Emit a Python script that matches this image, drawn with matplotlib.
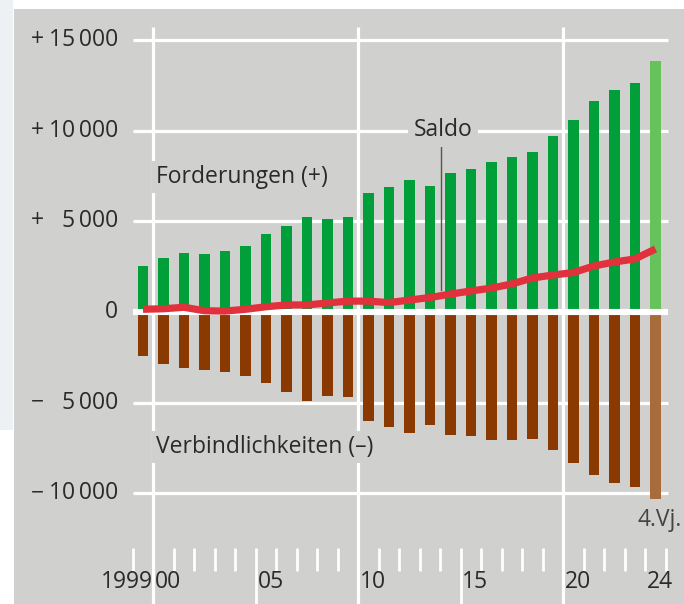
import numpy as np
import matplotlib.pyplot as plt
from matplotlib.patches import Rectangle

plt.rcParams['font.family'] = ['Open Sans', 'DejaVu Sans']

years = np.arange(1999, 2025)
forderungen = [2540, 2960, 3240, 3200, 3390, 3660, 4290, 4770, 5240, 5130, 5260,
               6570, 6900, 7290, 6960, 7670, 7890, 8280, 8560, 8830, 9720,
               10600, 11650, 12270, 12660, 13870]
verbindlichkeiten = [-2430, -2870, -3070, -3180, -3330, -3530, -3940, -4420, -4930, -4650, -4710,
                     -6000, -6350, -6700, -6260, -6810, -6830, -7050, -7090, -7010, -7620,
                     -8350, -9010, -9460, -9680, -10340]
saldo = [150, 180, 260, 70, 50, 150, 290, 390, 390, 500, 600,
         600, 520, 660, 800, 990, 1160, 1320, 1550, 1880, 2040,
         2180, 2540, 2760, 2930, 3480]

ytick_vals = [15000, 10000, 5000, 0, -5000, -10000]
ytick_signs = ['+', '+', '+', '', '\u2212', '\u2212']
ytick_nums = ['15\u2009000', '10\u2009000', '5\u2009000', '0', '5\u2009000', '10\u2009000']
xlab_text = ['1999', '00', '05', '10', '15', '20', '24']
xlab_pos = [1999.5, 1999.5, 2004.5, 2009.5, 2014.5, 2019.5, 2023.5]

panel = '#d0d0ce'
green = '#009f3a'
green_last = '#66c25a'
brown = '#8a3a00'
brown_last = '#a86c3c'
red = '#e0313c'
txt = '#2a2a2a'
fs = 16.5

fig = plt.figure(figsize=(6.84, 6.04), dpi=100, facecolor='white')
ax = fig.add_axes([0, 0, 1, 1])
ax.set_facecolor('none')
ax.set_xlim(1992.024, 2025.39)
ax.set_ylim(-16115, 17219)
ax.axis('off')

ax.add_patch(Rectangle((14 / 684, 0), 1, (604 - 9) / 604, transform=fig.transFigure,
                       facecolor=panel, edgecolor='none', zorder=0, clip_on=False))
ax.add_patch(Rectangle((0, (604 - 430) / 604), 13 / 684, 1, transform=fig.transFigure,
                       facecolor='#eef1f3', edgecolor='none', zorder=0, clip_on=False))

# grid
ax.hlines([v for v in ytick_vals if v != 0], 1998.5, 2024.6, color='white', lw=2.3, zorder=1)
ax.vlines([1999.5, 2009.5, 2019.5], -16115, 15729, color='white', lw=2.3, zorder=1)

# bars
fcol = [green] * (len(years) - 1) + [green_last]
vcol = [brown] * (len(years) - 1) + [brown_last]
ax.bar(years, forderungen, width=0.5, color=fcol, zorder=2)
ax.bar(years, verbindlichkeiten, width=0.5, color=vcol, zorder=2)

# zero line
ax.hlines(0, 1998.5, 2024.6, color='white', lw=4.4, zorder=3)

# saldo
ax.plot(years, saldo, color=red, lw=5.2, solid_capstyle='butt', solid_joinstyle='round', zorder=4)
ax.plot([2013.55, 2013.55], [1200, 9100], color='#555555', lw=1.0, zorder=3)

# bottom ticks
bounds = np.arange(1998.5, 2025, 1.0)
for b in bounds:
    if b in (1999.5, 2009.5, 2019.5):
        continue
    low = -16115 if b in (2004.5, 2014.5) else -14294
    ax.plot([b, b], [-13025, low], color='white', lw=2.0, solid_capstyle='butt', zorder=1)

# y labels
for v, s, n in zip(ytick_vals, ytick_signs, ytick_nums):
    if s:
        ax.text(1992.024 + 31 / 20.5, v, s, ha='left', va='center', fontsize=fs, color=txt)
    ax.text(1997.8, v, n, ha='right', va='center', fontsize=fs, color=txt)

# x labels
for t, p in zip(xlab_text, xlab_pos):
    if t == '1999':
        ax.text(p - 0.02, -14900, t, ha='right', va='center', fontsize=fs, color=txt)
    else:
        ax.text(p + 0.08, -14900, t, ha='left', va='center', fontsize=fs, color=txt)

box = dict(facecolor=panel, edgecolor='none', pad=3)
ax.text(1999.62, 7450, 'Forderungen (+)', ha='left', va='center', fontsize=fs, color=txt,
        bbox=box, zorder=5)
ax.text(1999.62, -7450, 'Verbindlichkeiten (\u2013)', ha='left', va='center', fontsize=fs,
        color=txt, bbox=box, zorder=5)
ax.text(2013.65, 10050, 'Saldo', ha='center', va='center', fontsize=fs, color=txt,
        bbox=dict(facecolor=panel, edgecolor='none', pad=4), zorder=5)
ax.text(2025.3, -11480, '4.Vj.', ha='right', va='center', fontsize=fs, color='#444444')

plt.savefig('out.png', dpi=100, facecolor='white')
